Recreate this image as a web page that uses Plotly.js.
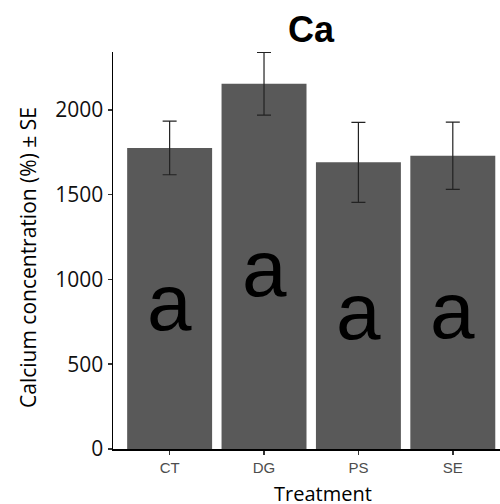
<!DOCTYPE html>
<html>
<head>
<meta charset="utf-8">
<script src="https://cdn.plot.ly/plotly-3.0.1.min.js"></script>
<style>html,body{margin:0;padding:0;background:#fff;}#chart{width:500px;height:504px;}</style>
</head>
<body>
<div id="chart"></div>
<script>
var treatments = ["CT", "DG", "PS", "SE"];
var meanCa = [1776, 2155, 1691, 1730];
var seCa = [158, 185, 236, 198];
var groupLetters = ["a", "a", "a", "a"];
var letterY = [862, 1062, 812, 820];
var yTicks = [0, 500, 1000, 1500, 2000];

var bars = {
  type: "bar",
  x: treatments,
  y: meanCa,
  width: 0.9,
  marker: {color: "#595959", line: {width: 0}},
  error_y: {type: "data", array: seCa, visible: true, color: "#222222", thickness: 1.2, width: 7},
  hoverinfo: "none"
};

var ann = treatments.map(function(t, i) {
  return {x: t, y: letterY[i], xref: "x", yref: "y", text: groupLetters[i], showarrow: false,
          xanchor: "center", yanchor: "middle",
          font: {family: "Liberation Sans, Arial, sans-serif", size: 80, color: "#000"}};
});
ann.push({
  xref: "paper", yref: "paper", x: (28 - 113) / 387, y: (504 - 55 - 258) / 397,
  text: "Calcium concentration (%) ± SE", textangle: -90, showarrow: false,
  xanchor: "center", yanchor: "middle",
  font: {family: "Open Sans, sans-serif", size: 21, color: "#000"}
});
ann.push({
  xref: "paper", yref: "paper", x: (323 - 113) / 387, y: -(478 - 449) / 397,
  text: "Treatment", showarrow: false, xanchor: "center", yanchor: "top",
  font: {family: "Open Sans, sans-serif", size: 20, color: "#000"}
});

var layout = {
  width: 500, height: 504,
  margin: {l: 113, r: 0, t: 52, b: 55, pad: 0},
  paper_bgcolor: "#fff", plot_bgcolor: "#fff",
  showlegend: false,
  title: {text: "<b>Ca</b>", x: 311 / 500, xanchor: "center", y: 1 - 29 / 504, yanchor: "middle",
          font: {family: "Liberation Sans, Arial, sans-serif", size: 36, color: "#000"}},
  xaxis: {
    range: [-0.6, 3.5], showgrid: false, zeroline: false,
    showline: true, linecolor: "#000", linewidth: 1.5,
    ticks: "outside", ticklen: 4, tickcolor: "#333", tickwidth: 1.5,
    tickfont: {family: "Liberation Sans, Arial, sans-serif", size: 15, color: "#4d4d4d"},
    fixedrange: true
  },
  yaxis: {
    range: [0, 2342], showgrid: false, zeroline: false,
    showline: true, linecolor: "#000", linewidth: 1.5,
    tickvals: yTicks, ticktext: yTicks.map(String),
    ticks: "outside", ticklen: 4, tickcolor: "#333", tickwidth: 1.5,
    tickfont: {family: "Open Sans, sans-serif", size: 21, color: "#111"},
    fixedrange: true
  },
  annotations: ann,
  bargap: 0.1
};

Plotly.newPlot("chart", [bars], layout, {displayModeBar: false, staticPlot: true});
</script>
</body>
</html>
